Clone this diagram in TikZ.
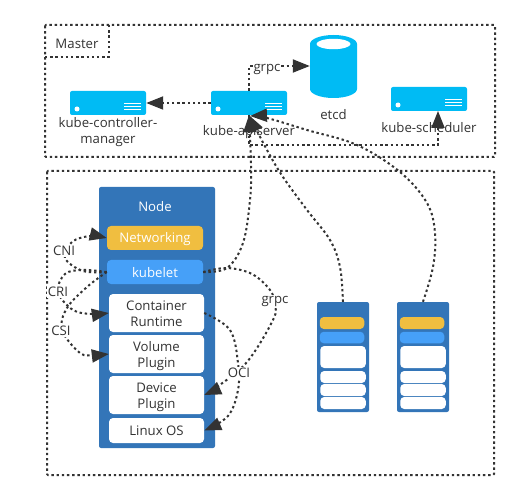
\documentclass[tikz,border=0pt]{standalone}
\usepackage{fontspec}
\setmainfont{Open Sans}
\usetikzlibrary{arrows.meta}
\definecolor{ink}{HTML}{333333}
\definecolor{srv}{HTML}{00BBF4}
\definecolor{nodeblue}{HTML}{3375B8}
\definecolor{gold}{HTML}{F0BE40}
\definecolor{skyb}{HTML}{46A0F8}
\tikzset{
  dots/.style={draw=ink,line width=2pt,dash pattern=on 2.4pt off 2.8pt},
  conn/.style={dots,-{Triangle[length=17pt,width=13pt,color=ink]}},
  plain/.style={dots},
  txt/.style={font=\fontsize{13.2}{16.5}\selectfont,text=ink,align=center,inner sep=0pt},
  lab/.style={txt,fill=white,inner sep=1pt},
  server/.style={fill=srv,rounded corners=2pt,minimum width=76pt,minimum height=24pt,inner sep=0pt},
  hostbox/.style={fill=nodeblue,rounded corners=2pt,inner sep=0pt},
  bar/.style={rounded corners=4pt,inner sep=0pt,font=\fontsize{13.2}{16.5}\selectfont,align=center,minimum width=96pt},
  oneline/.style={text height=13pt,text depth=3pt},
  twolines/.style={text height=30pt,text depth=3pt},
  goldbar/.style={bar,oneline,fill=gold,text=white},
  bluebar/.style={bar,oneline,fill=skyb,text=white},
  whitebar/.style={bar,fill=white,text=ink,minimum width=95pt},
  mini/.style={rounded corners=4pt,inner sep=0pt},
}
\newcommand{\stripes}[2]{%
  \fill[white] (#1+7,#2+18) circle (2.5);
  \foreach \d in {13,16,19}{\draw[white,line width=1pt] (#1+54,#2+\d) -- (#1+71,#2+\d);}
}
\newcommand{\minihost}[2]{%
  \node[hostbox,minimum width=52pt,minimum height=110pt] (#2) at (#1,357) {};
  \node[mini,fill=gold,minimum width=44.5pt,minimum height=12pt] (#2a) at (#1-1,323) {};
  \node[mini,fill=skyb,minimum width=44.5pt,minimum height=11.5pt] (#2b) at (#1-1,337.5) {};
  \node[mini,fill=white,minimum width=45.5pt,minimum height=22pt] (#2c) at (#1,357) {};
  \node[mini,fill=white,minimum width=45.5pt,minimum height=12pt] (#2d) at (#1,377) {};
  \node[mini,fill=white,minimum width=45.5pt,minimum height=12pt] (#2e) at (#1,390) {};
  \node[mini,fill=white,minimum width=45.5pt,minimum height=12pt] (#2f) at (#1,403) {};
}
\begin{document}
\begin{tikzpicture}[x=1pt,y=-1pt]
\useasboundingbox (0,0) rectangle (520,500);
% frames
\draw[plain,rounded corners=1pt] (45,25) rectangle (495,157);
\draw[plain] (45,57) -| (109,25);
\node[txt] (masterlabel) at (77,44) {Master};
\draw[plain,rounded corners=1pt] (47,171) rectangle (494,475);
% master servers
\node[server] (controller) at (108,103) {};
\stripes{70}{91}
\node[server] (apiserver) at (249,103) {};
\stripes{211}{91}
\node[server] (scheduler) at (429,99) {};
\stripes{391}{87}
\coordinate (schedin) at (438,111);
% etcd
\node[minimum width=47pt,minimum height=63pt,inner sep=0pt] (etcd) at (333.5,66) {};
\fill[srv] (310,44) arc[start angle=180,end angle=360,x radius=23.5,y radius=9]
  -- (357,89) arc[start angle=0,end angle=180,x radius=23.5,y radius=9] -- cycle;
\fill[white] (333.5,44) ellipse [x radius=17,y radius=5.2];
\node[txt] (controllerlabel) at (108,132) {kube-controller-\\manager};
\node[txt] (apilabel) at (249,132) {kube-apiserver};
\node[txt] (etcdlabel) at (333.5,115) {etcd};
\node[txt] (schedlabel) at (429,128) {kube-scheduler};
% node
\node[hostbox,minimum width=116pt,minimum height=261pt] (host) at (157,317.5) {};
\node[txt,text=white] (hostlabel) at (155,207) {Node};
\node[goldbar,minimum height=24pt] (net) at (155,238) {Networking};
\node[bluebar,minimum height=24pt] (kubelet) at (155,272) {kubelet};
\node[whitebar,twolines,minimum height=38pt] (runtime) at (156.5,313) {Container\\Runtime};
\node[whitebar,twolines,minimum height=38pt] (volume) at (156.5,354) {Volume\\Plugin};
\node[whitebar,twolines,minimum height=38pt] (device) at (156.5,395) {Device\\Plugin};
\node[whitebar,oneline,minimum height=25pt] (linux) at (156.5,430.5) {Linux OS};
\minihost{343}{nodeA}
\minihost{423}{nodeB}
% master connectors
\draw[conn] (apiserver.west) -- (controller.east);
\draw[conn] (apiserver.north) |- (etcd.west);
\draw[conn] (apiserver.south) -- ++(0,30) -| (schedin);
% to apiserver
\draw[conn] plot[smooth,tension=.6] coordinates {(kubelet.east) (227,268) (243,243) (250,200) (251,165) (apiserver.south)};
\draw[conn] plot[smooth,tension=.6] coordinates {(nodeA.north) (340,267) (330,240) (307,210) (283,177) (267,150) (apiserver.south)};
\coordinate (apiin) at (250,116);
\draw[conn] plot[smooth,tension=.6] coordinates {(nodeB.north) (433,267) (435,233) (427,203) (400,172) (357,145) (307,130) (267,118) (apiin)};
% kubelet plugin links
\draw[conn] plot[smooth,tension=.6] coordinates {(kubelet.west) (83,271) (65,258) (72,242) (90,236) (net.west)};
\draw[conn] plot[smooth,tension=.6] coordinates {(kubelet.west) (83,270) (65,274) (58,292) (73,310) (92,314) (runtime.west)};
\draw[conn] plot[smooth,tension=.6] coordinates {(kubelet.west) (87,287) (67,308) (62,330) (80,353) (94,355) (volume.west)};
\draw[conn] plot[smooth,tension=.6] coordinates {(kubelet.east) (227,268) (252,274) (270,290) (275,305) (273,320) (247,362) (217,387) (device.east)};
\draw[conn] plot[smooth,tension=.6] coordinates {(runtime.east) (230,330) (238,363) (238,390) (228,416) (linux.east)};
% connector labels
\node[lab] (grpcA) at (267,69) {grpc};
\node[lab] (cni) at (64,251) {CNI};
\node[lab] (cri) at (58,292) {CRI};
\node[lab] (csi) at (61,331) {CSI};
\node[lab] (grpcB) at (275,301) {grpc};
\node[lab] (oci) at (239,373) {OCI};
\end{tikzpicture}
\end{document}
